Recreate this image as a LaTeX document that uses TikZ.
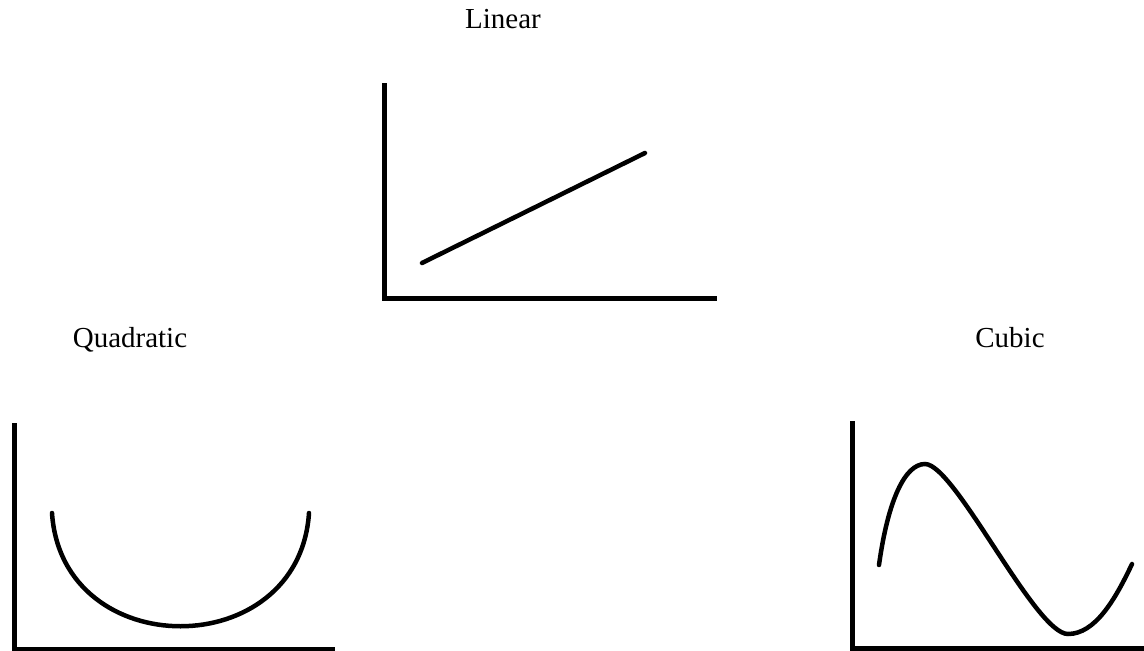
\documentclass[tikz,border=0pt]{standalone}
\usepackage{fontspec}
\setmainfont{Liberation Serif}
\begin{document}
\begin{tikzpicture}[x=1pt,y=-1pt,
  axis/.style={line width=5pt, line cap=butt},
  curve/.style={line width=4.5pt, line cap=round},
  lbl/.style={font=\fontsize{29}{35}\selectfont, anchor=base, inner sep=0pt}]
\useasboundingbox (0,0) rectangle (1144,651);
% Linear
\node[lbl] (tlin) at (503,28) {Linear};
\draw[axis] (384,83) -- (384,298) -- (717,298);
\draw[curve] (422,263) -- (645,153);
% Quadratic
\node[lbl] (tquad) at (130,347) {Quadratic};
\draw[axis] (14,423) -- (14,649) -- (335,649);
\draw[curve] (52,513) .. controls (62,664) and (299,664) .. (309,513);
% Cubic
\node[lbl] (tcub) at (1010,347) {Cubic};
\draw[axis] (852,421) -- (852,648) -- (1144,648);
\draw[curve] (879,565) .. controls (888,500) and (905,464) .. (925,464)
  .. controls (955,464) and (1035,634) .. (1068,634)
  .. controls (1095,634) and (1115,600) .. (1132,564);
\end{tikzpicture}
\end{document}
